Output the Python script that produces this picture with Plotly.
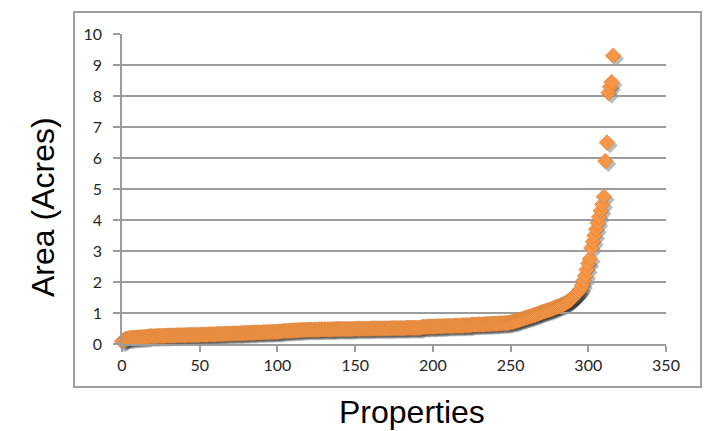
import plotly.graph_objects as go

# Area of each property (acres), sorted ascending; x is the property rank
area_acres = [
    0.08, 0.12, 0.15, 0.17,
    0.18, 0.19, 0.19, 0.20, 0.20, 0.20, 0.21, 0.21, 0.22, 0.22, 0.22, 0.23, 0.23, 0.24,
    0.25, 0.25, 0.25, 0.25, 0.25, 0.26, 0.26, 0.26, 0.26, 0.26,
    0.26, 0.27, 0.27, 0.27, 0.27, 0.27, 0.27, 0.28, 0.28, 0.28,
    0.28, 0.28, 0.28, 0.28, 0.29, 0.29, 0.29, 0.29, 0.29, 0.29,
    0.29, 0.29, 0.29,
    0.30, 0.30, 0.30, 0.30, 0.30, 0.31, 0.31, 0.31, 0.31, 0.31,
    0.32, 0.32, 0.32, 0.32, 0.32, 0.33, 0.33, 0.33, 0.33, 0.33,
    0.34, 0.34, 0.34, 0.34, 0.34, 0.34,
    0.35, 0.35, 0.35, 0.35, 0.36, 0.36, 0.36, 0.36, 0.36, 0.37,
    0.37, 0.37, 0.37, 0.37, 0.38, 0.38, 0.38, 0.38, 0.38, 0.39,
    0.39, 0.39, 0.39, 0.39,
    0.40, 0.40, 0.41, 0.41, 0.42, 0.42, 0.42, 0.43, 0.43, 0.43,
    0.44, 0.44, 0.44, 0.44, 0.45, 0.45, 0.45, 0.45,
    0.46, 0.46, 0.46, 0.46, 0.46, 0.46, 0.46, 0.46,
    0.47, 0.47, 0.47, 0.47, 0.47, 0.47, 0.47, 0.47, 0.47, 0.47,
    0.48, 0.48, 0.48, 0.48, 0.48, 0.48, 0.48, 0.48, 0.48, 0.48, 0.48, 0.48,
    0.49, 0.49, 0.49, 0.49, 0.49, 0.49, 0.49, 0.49, 0.49, 0.49, 0.49, 0.49,
    0.50, 0.50, 0.50, 0.50, 0.50, 0.50, 0.50, 0.50, 0.50, 0.50, 0.50, 0.50,
    0.51, 0.51, 0.51, 0.51, 0.51, 0.51, 0.51, 0.51, 0.51, 0.51,
    0.52, 0.52, 0.52, 0.52, 0.52, 0.52, 0.52, 0.52, 0.52, 0.52,
    0.55, 0.55, 0.55, 0.55, 0.56, 0.56, 0.56, 0.56, 0.56,
    0.57, 0.57, 0.57, 0.57, 0.57, 0.57, 0.58, 0.58, 0.58, 0.58, 0.58, 0.58,
    0.59, 0.59, 0.59, 0.59, 0.59, 0.59, 0.60, 0.60, 0.60, 0.60, 0.60,
    0.62, 0.62, 0.62, 0.62, 0.63, 0.63, 0.63, 0.63, 0.63,
    0.64, 0.64, 0.64, 0.64, 0.65, 0.65, 0.65, 0.65,
    0.66, 0.66, 0.66, 0.67, 0.67, 0.67, 0.68, 0.68,
    0.70, 0.71, 0.72, 0.73, 0.75, 0.76, 0.78, 0.80, 0.81, 0.83,
    0.85, 0.86, 0.88, 0.89, 0.91, 0.93, 0.94, 0.96, 0.98, 1.00,
    1.02, 1.04, 1.05, 1.07, 1.09, 1.10, 1.12, 1.14, 1.16, 1.18,
    1.20, 1.22, 1.24, 1.26, 1.28, 1.31, 1.34, 1.37, 1.40, 1.44,
    1.50, 1.55, 1.60, 1.65, 1.70, 1.78,
    1.90, 2.05, 2.20, 2.40, 2.60, 2.75,
    3.10, 3.30, 3.50, 3.70, 3.90, 4.10, 4.30, 4.50, 4.75,
    5.90, 6.50, 8.10, 8.30, 8.45, 9.30,
]
property_rank = list(range(len(area_acres)))

x_ticks = [0, 50, 100, 150, 200, 250, 300, 350]
y_ticks = [0, 1, 2, 3, 4, 5, 6, 7, 8, 9, 10]

x_title = "Properties"
y_title = "Area (Acres)"

GRID = "#9c9c9c"
ORANGE = "#F79646"
W, H = 715, 431
OFF = 8                      # page body margin in the browser
# plot area in window pixels: x 122..666, y 34..344
L = 122 - OFF
T = 34 - OFF
SH = 3                       # shadow offset in pixels
R = W - (666 - OFF + SH)
B = H - (344 - OFF + SH)
PW, PH = W - L - R, H - T - B


def px_x(px):
    return (px - OFF - L) / PW


def px_y(py):
    return (H - B - (py - OFF)) / PH


fig = go.Figure()

# drop shadow (same data on a copy of the axes shifted a few pixels right/down)
fig.add_trace(go.Scatter(
    x=property_rank, y=area_acres, mode="markers",
    marker=dict(symbol="diamond", size=12, color="rgba(30,30,30,0.3)",
                line=dict(width=0)),
    xaxis="x", yaxis="y", cliponaxis=False, hoverinfo="skip", showlegend=False,
))
# main series
fig.add_trace(go.Scatter(
    x=property_rank, y=area_acres, mode="markers",
    marker=dict(symbol="diamond", size=12, color=ORANGE,
                line=dict(width=0.6, color="#CF7E38")),
    xaxis="x2", yaxis="y2", cliponaxis=False, showlegend=False,
))

tickfont = dict(family="Lato, Liberation Sans, sans-serif", size=16, color="#262626")

fig.update_layout(
    width=W, height=H,
    margin=dict(l=L, r=R, t=T, b=B, pad=0),
    paper_bgcolor="white", plot_bgcolor="rgba(0,0,0,0)",
    xaxis=dict(domain=[SH / PW, 1], range=[0, 350], visible=False, anchor="y"),
    yaxis=dict(domain=[0, 1 - SH / PH], range=[0, 10], visible=False, anchor="x"),
    xaxis2=dict(
        domain=[0, 1 - SH / PW], range=[0, 350], anchor="y2",
        tickvals=x_ticks, ticktext=[str(v) for v in x_ticks],
        ticks="outside", ticklen=6, tickwidth=1.5, tickcolor=GRID,
        showline=True, linecolor=GRID, linewidth=1.5,
        showgrid=False, zeroline=False, tickfont=tickfont,
        ticklabelstandoff=0,
    ),
    yaxis2=dict(
        domain=[SH / PH, 1], range=[0, 10], anchor="x2",
        tickvals=y_ticks, ticktext=[str(v) for v in y_ticks],
        ticks="outside", ticklen=7, tickwidth=1.5, tickcolor=GRID,
        showline=True, linecolor=GRID, linewidth=1.5,
        showgrid=True, gridcolor=GRID, gridwidth=1.5,
        zeroline=False, tickfont=tickfont,
        ticklabelstandoff=8,
    ),
    shapes=[dict(
        type="rect", xref="paper", yref="paper",
        x0=px_x(74), x1=px_x(701),
        y0=px_y(387), y1=px_y(12),
        line=dict(color="#a0a0a0", width=2), fillcolor="rgba(0,0,0,0)",
        layer="below",
    )],
    annotations=[
        dict(text=x_title, xref="paper", yref="paper",
             x=px_x(412), y=px_y(412),
             xanchor="center", yanchor="middle", showarrow=False,
             font=dict(family="Liberation Sans, Arial, sans-serif", size=32, color="black")),
        dict(text=y_title, xref="paper", yref="paper", textangle=-90,
             x=px_x(43), y=px_y(207),
             xanchor="center", yanchor="middle", showarrow=False,
             font=dict(family="Liberation Sans, Arial, sans-serif", size=32, color="black")),
    ],
)

fig.write_html("out.html")
